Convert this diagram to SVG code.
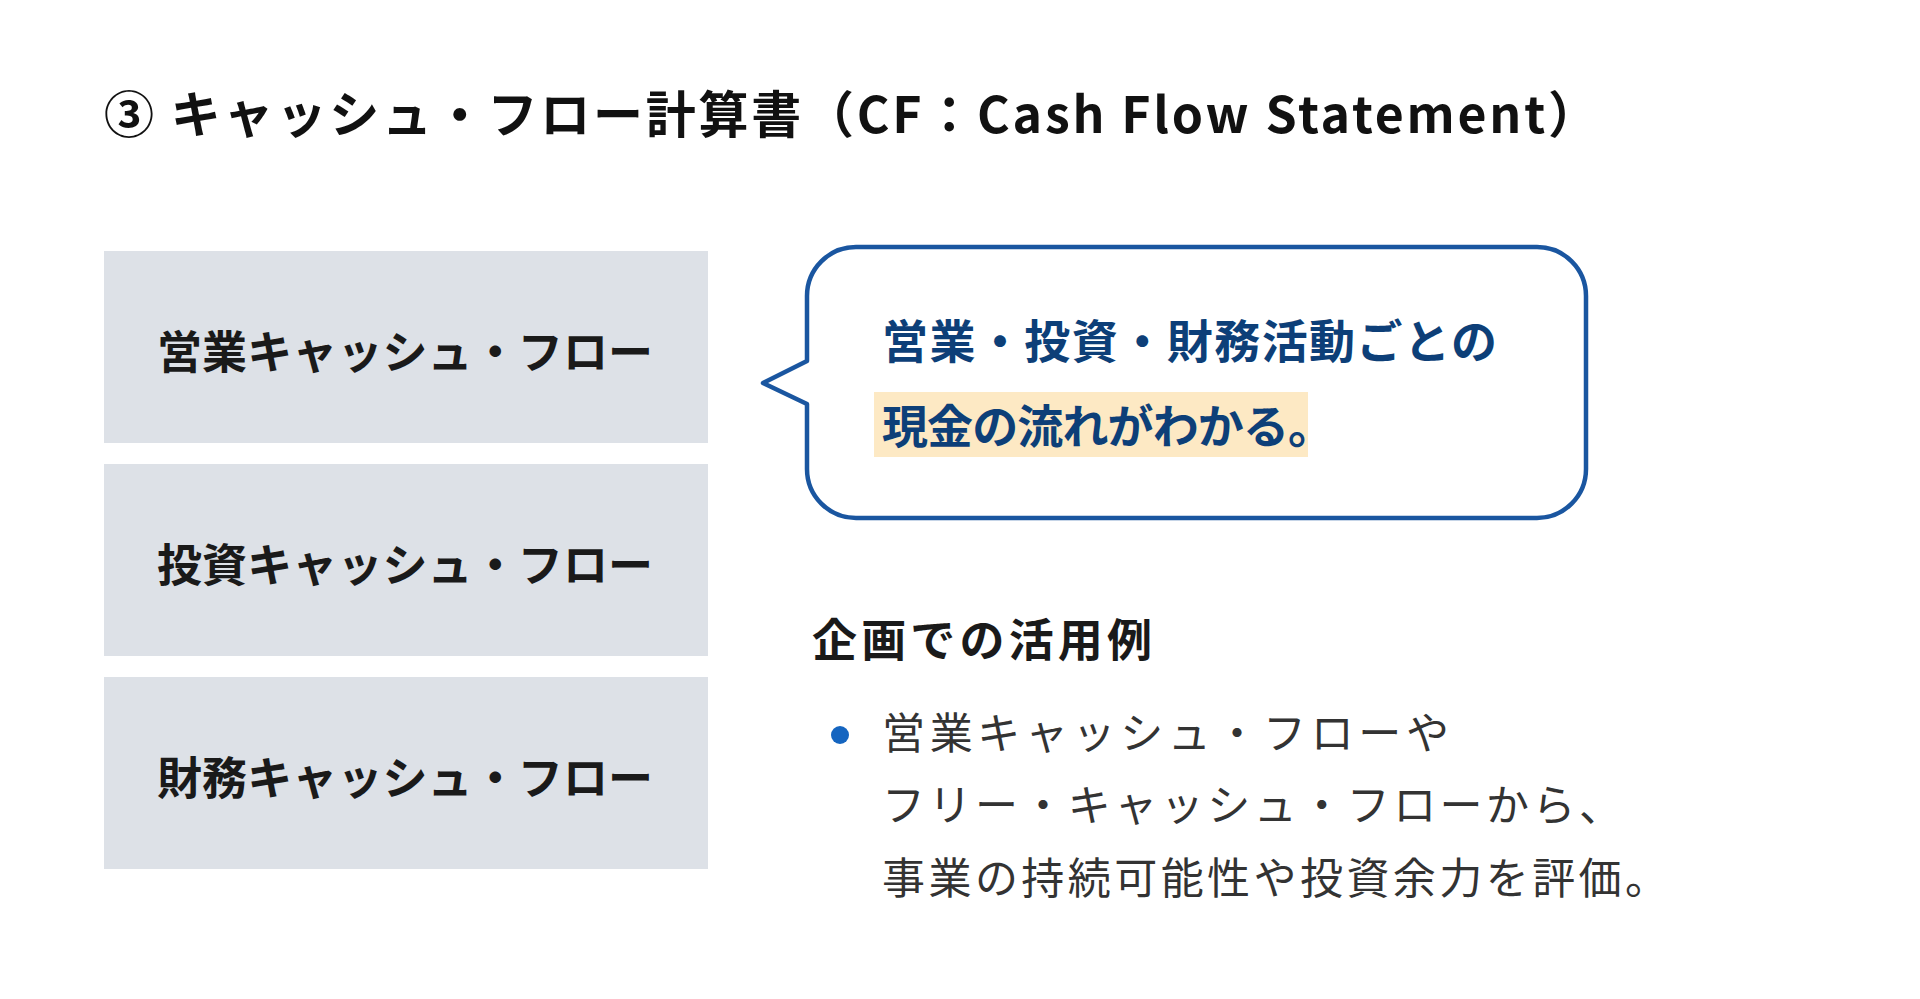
<svg xmlns="http://www.w3.org/2000/svg" width="1920" height="999" viewBox="0 0 1920 999">
<style>
text{font-family:"Noto Sans CJK JP","Noto Sans",sans-serif}
.box{fill:#dde1e7}
.bt{font-size:45px;font-weight:700;fill:#1a1a1a}
.bub{font-size:46px;font-weight:700;fill:#0d3f78}
.li{font-size:43px;fill:#333}
</style>
<rect width="1920" height="999" fill="#fff"/>
<text x="104" y="133" font-size="50" font-weight="700" fill="#111" textLength="1494" lengthAdjust="spacing">③ キャッシュ・フロー計算書（CF：Cash Flow Statement）</text>
<g id="op"><rect class="box" x="104" y="251" width="604" height="192"/><text class="bt" x="157" y="369" textLength="496" lengthAdjust="spacing">営業キャッシュ・フロー</text></g>
<g id="inv"><rect class="box" x="104" y="464" width="604" height="192"/><text class="bt" x="157" y="582" textLength="496" lengthAdjust="spacing">投資キャッシュ・フロー</text></g>
<g id="fin"><rect class="box" x="104" y="677" width="604" height="192"/><text class="bt" x="157" y="795" textLength="496" lengthAdjust="spacing">財務キャッシュ・フロー</text></g>
<g id="bubble">
<path d="M856,247 H1537 A49,49 0 0 1 1586,296 V469 A49,49 0 0 1 1537,518 H856 A49,49 0 0 1 807,469 V404 L763,383 L807,361 V296 A49,49 0 0 1 856,247 Z" fill="#fff" stroke="#1a56a0" stroke-width="4.5" stroke-linejoin="round"/>
<rect x="874" y="392" width="434" height="65" fill="#fde9c4"/>
<text class="bub" x="882" y="358" textLength="615" lengthAdjust="spacing">営業・投資・財務活動ごとの</text>
<text class="bub" x="882" y="443" textLength="452" lengthAdjust="spacing">現金の流れがわかる。</text>
</g>
<g id="usage">
<text x="812" y="657" font-size="45" font-weight="700" fill="#1a1a1a" textLength="340" lengthAdjust="spacing">企画での活用例</text>
<circle cx="840" cy="735" r="9" fill="#1565c0"/>
<text class="li" x="882" y="749" textLength="567" lengthAdjust="spacing">営業キャッシュ・フローや</text>
<text class="li" x="882" y="821" textLength="740" lengthAdjust="spacing">フリー・キャッシュ・フローから、</text>
<text class="li" x="882" y="894" textLength="786" lengthAdjust="spacing">事業の持続可能性や投資余力を評価。</text>
</g>
</svg>
